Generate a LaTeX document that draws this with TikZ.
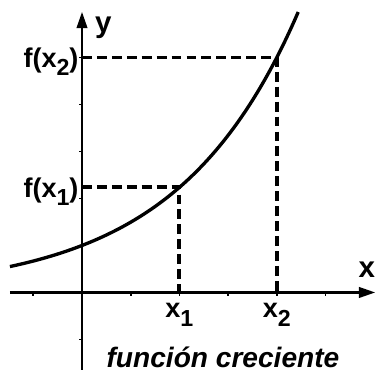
\documentclass[tikz,border=0pt]{standalone}
\usepackage{fontspec}
\setmainfont{Liberation Sans}
\usetikzlibrary{arrows.meta,positioning}

\newcommand{\sbx}[1]{\raisebox{-0.32em}{\fontsize{6.6pt}{6.6pt}\selectfont #1}}

\begin{document}
\begin{tikzpicture}[x=0.487cm, y=0.47cm,
    every node/.style={font=\fontsize{7.7pt}{9pt}\selectfont\bfseries, inner sep=0.5pt},
    axis/.style={line width=0.6pt, -{Triangle[length=4.6pt,width=3pt]}},
    guide/.style={line width=1.1pt, dash pattern=on 2.8pt off 1.45pt},
    graph/.style={line width=0.95pt}]
  \useasboundingbox (-1.684,-1.649) rectangle (6.099,6.223);
  % axes
  \coordinate (xs) at (-1.48,0);
  \coordinate (xe) at (6.02,0);
  \coordinate (ys) at (0,-1.649);
  \coordinate (ye) at (0,5.97);
  \draw[axis] (xs) -- (xe);
  \draw[axis] (ys) -- (ye);
  \foreach \t in {-1,1,2,3,4,5} {
    \draw[line width=0.5pt] (\t,0) -- (\t,-0.07);
    \draw[line width=0.5pt] (0,\t) -- (-0.07,\t);
  }
  % the curve
  \draw[graph] plot[domain=-1.48:4.44, samples=80, smooth] (\x,{exp(0.40236*\x)});
  % points
  \coordinate (pa) at (2,{sqrt(5)});
  \coordinate (pb) at (4,5);
  \coordinate (xa) at (2,0);
  \coordinate (xb) at (4,0);
  \coordinate (ya) at (0,{sqrt(5)});
  \coordinate (yb) at (0,5);
  \draw[guide] (ya) -- (pa) -- (xa);
  \draw[guide] (yb) -- (pb) -- (xb);
  % labels
  \node[anchor=base east] (fxa) at ([yshift=-2.8pt,xshift=-0.3pt]ya) {f(x\sbx{1})};
  \node[anchor=base east] (fxb) at ([yshift=-2.8pt,xshift=-0.3pt]yb) {f(x\sbx{2})};
  \node[anchor=base] (lxa) at (2,-0.54) {x\sbx{1}};
  \node[anchor=base] (lxb) at (4,-0.54) {x\sbx{2}};
  \node[anchor=base, font=\fontsize{8.4pt}{10pt}\selectfont\bfseries] (xlab) at (5.85,0.31) {x};
  \node[anchor=base, font=\fontsize{8.4pt}{10pt}\selectfont\bfseries] (ylab) at (0.44,5.54) {y};
  \node[anchor=base, font=\fontsize{8pt}{9pt}\selectfont\bfseries\itshape] (cap) at (2.895,-1.606) {función creciente};
\end{tikzpicture}
\end{document}
